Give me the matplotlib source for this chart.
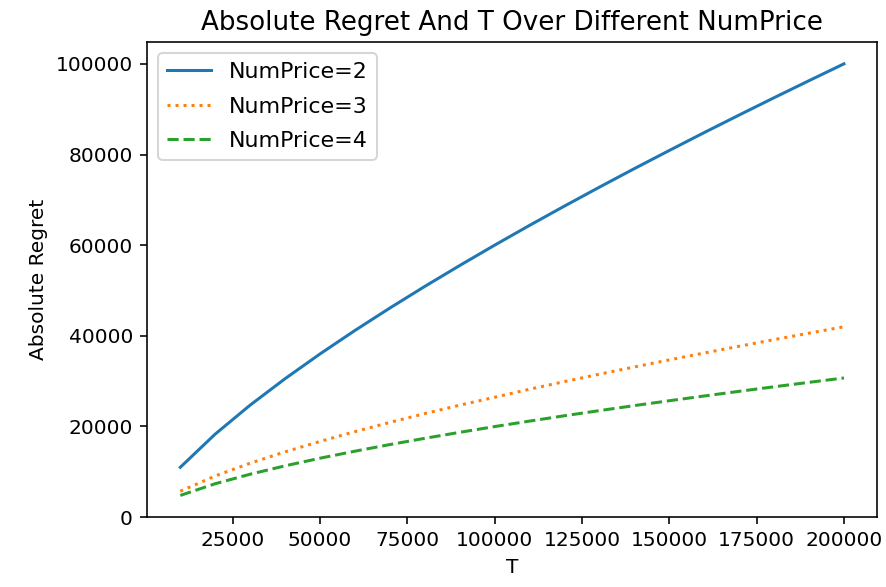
import numpy as np
import matplotlib
matplotlib.use("Agg")
import matplotlib.pyplot as plt

T = np.arange(10000, 200001, 10000)

# values
regret_2 = [10990, 18320, 24710, 30540, 36000, 41180, 46130, 50900, 55510, 60000,
            64370, 68630, 72800, 76890, 80890, 84840, 88710, 92530, 96290, 100000]
regret_3 = [5710, 9085, 11900, 14400, 16700, 18860, 20900, 22840, 24700, 26440,
            28220, 29900, 31540, 33130, 34690, 36210, 37700, 39160, 40590, 42000]
regret_4 = [4790, 7370, 9470, 11320, 13000, 14550, 16010, 17390, 18710, 19980,
            21190, 22370, 23500, 24610, 25680, 26730, 27760, 28760, 29740, 30700]

fig = plt.figure(figsize=(886 / 145, 587 / 145), dpi=145)
ax = fig.add_axes([0.166, 0.119, 0.824, 0.809])

ax.plot(T, regret_2, '-', label='NumPrice=2')
ax.plot(T, regret_3, ':', label='NumPrice=3')
ax.plot(T, regret_4, '--', label='NumPrice=4')

ax.set_title('Absolute Regret And T Over Different NumPrice', fontsize=13)
ax.set_xlabel('T')
ax.set_ylabel('Absolute Regret')
ax.set_xticks([25000, 50000, 75000, 100000, 125000, 150000, 175000, 200000])
ax.set_yticks([0, 20000, 40000, 60000, 80000, 100000])
ax.legend(loc='upper left', fontsize=11, labelspacing=0.65)

fig.savefig('out.png', dpi=145)
